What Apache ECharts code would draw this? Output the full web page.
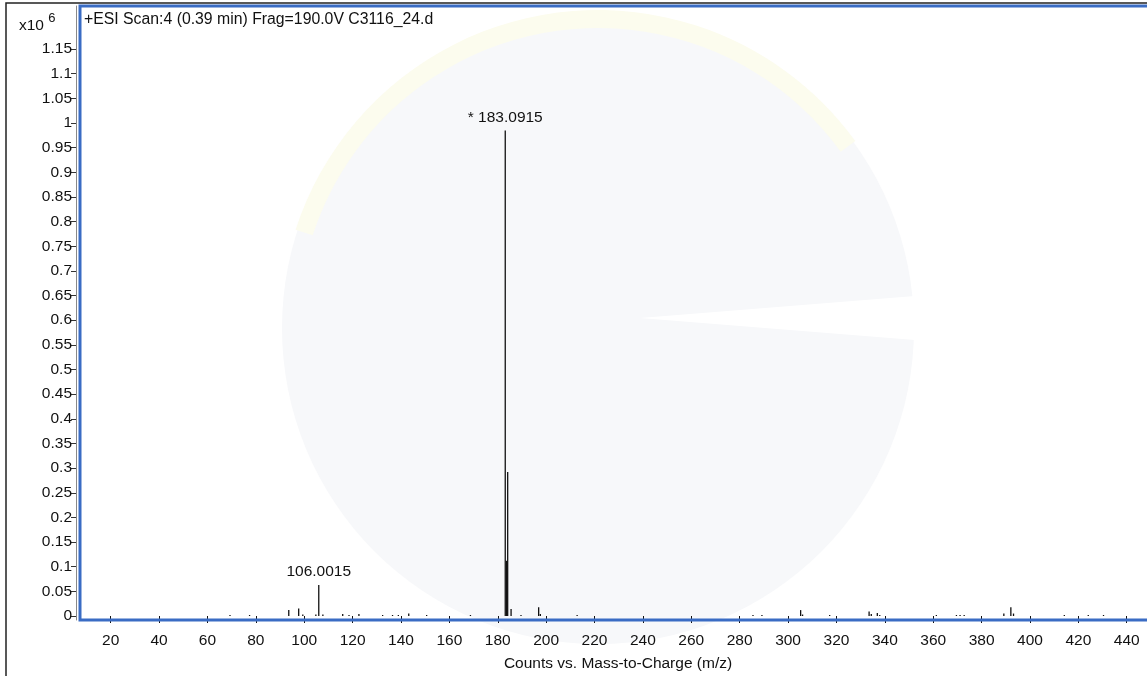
<!DOCTYPE html>
<html>
<head>
<meta charset="utf-8">
<script src="https://cdn.jsdelivr.net/npm/echarts@6/dist/echarts.min.js"></script>
<style>
html,body{margin:0;padding:0;background:#fff;overflow:hidden;}
#c{width:1156px;height:676px;}
</style>
</head>
<body>
<div id="c"></div>
<script>
// m/z values of the peaks
var mzValues = [69.3, 77.4, 93.6, 97.7, 99.4, 104.8, 106.0015, 107.7, 115.9, 118.5, 122.6, 132.4, 136.5, 138.9, 143.2, 150.6, 168.7,
  183.0915, 183.6, 184.0948, 185.5, 189.6, 196.9, 197.6, 212.8, 285.5, 289.2, 305.2, 306.0, 317.2, 333.5, 334.4, 336.9, 337.9,
  361.3, 369.6, 371.1, 372.8, 389.2, 392.1, 393.2, 414.2, 424.1, 430.4];
// counts (x10^6)
var countValues = [0.002, 0.002, 0.012, 0.015, 0.003, 0.003, 0.063, 0.003, 0.004, 0.002, 0.004, 0.002, 0.002, 0.002, 0.005, 0.002, 0.002,
  0.985, 0.112, 0.292, 0.014, 0.002, 0.018, 0.004, 0.002, 0.002, 0.002, 0.012, 0.003, 0.002, 0.009, 0.004, 0.006, 0.002,
  0.002, 0.002, 0.002, 0.002, 0.005, 0.018, 0.005, 0.002, 0.002, 0.002];
// annotated peaks
var peakLabels = {'106.0015': '106.0015', '183.0915': '* 183.0915'};
var xTicks = [20,40,60,80,100,120,140,160,180,200,220,240,260,280,300,320,340,360,380,400,420,440];
var yTicks = [0,0.05,0.1,0.15,0.2,0.25,0.3,0.35,0.4,0.45,0.5,0.55,0.6,0.65,0.7,0.75,0.8,0.85,0.9,0.95,1,1.05,1.1,1.15];
var titleText = '+ESI Scan:4 (0.39 min) Frag=190.0V C3116_24.d';
var xName = 'Counts vs. Mass-to-Charge (m/z)';

var FONT = 'Liberation Sans, Arial, sans-serif';
var FS = 15.5;
var data = mzValues.map(function (m, i) {
  var item = {value: [m, countValues[i]]};
  var key = String(m);
  if (peakLabels[key]) {
    item.label = {show: true, position: 'top', distance: 5, formatter: peakLabels[key],
      color: '#111', fontSize: FS, fontFamily: FONT};
  }
  return item;
});

var chart = echarts.init(document.getElementById('c'));
chart.setOption({
  animation: false,
  backgroundColor: '#fff',
  graphic: [
    {type: 'circle', shape: {cx: 598, cy: 328, r: 316}, style: {fill: '#f7f8fa'}, z: -10, silent: true},
    {type: 'sector', shape: {cx: 598, cy: 328, r: 318, r0: 300, startAngle: Math.PI * 1.1, endAngle: Math.PI * 1.8}, style: {fill: '#fcfcee'}, z: -9, silent: true},
    {type: 'polygon', shape: {points: [[640, 318], [915, 296], [915, 340]]}, style: {fill: '#ffffff'}, z: -9, silent: true},
    {type: 'rect', shape: {x: 6, y: 3, width: 1200, height: 720}, style: {fill: 'none', stroke: '#222', lineWidth: 1.5}, z: 10, silent: true},
    {type: 'text', left: 19, top: 12, style: {text: '{a|x10 }{b|6}', rich: {a: {fontSize: FS, fontFamily: FONT, fill: '#111', padding: [6, 0, 0, 0]}, b: {fontSize: 13, fontFamily: FONT, fill: '#111', verticalAlign: 'top'}}}, z: 10},
    {type: 'text', left: 84, top: 12, style: {text: titleText, fontSize: 15.8, fontFamily: FONT, fill: '#111'}, z: 10}
  ],
  grid: {left: 80, right: 0, top: 6, bottom: 56, show: true, borderColor: '#3a6cc4', borderWidth: 3,
    backgroundColor: 'transparent', z: 3, containLabel: false, outerBoundsMode: 'none'},
  xAxis: {
    type: 'value', min: 7.3, max: 452.1,
    name: xName, nameLocation: 'middle', nameGap: 36,
    nameTextStyle: {fontSize: FS, fontFamily: FONT, color: '#111'},
    axisLine: {show: false},
    axisTick: {show: true, length: 7, customValues: xTicks, lineStyle: {color: '#111'}},
    axisLabel: {customValues: xTicks, fontSize: FS, fontFamily: FONT, color: '#111', margin: 13},
    splitLine: {show: false}
  },
  yAxis: {
    type: 'value', min: -0.0081, max: 1.2373, offset: 4,
    axisLine: {show: true, lineStyle: {color: '#888', width: 1}},
    axisTick: {show: true, length: 5, customValues: yTicks, lineStyle: {color: '#333'}},
    axisLabel: {customValues: yTicks, fontSize: FS, fontFamily: FONT, color: '#111', margin: 4,
      formatter: function (v) { return String(Number(v.toFixed(2))); }},
    splitLine: {show: false}
  },
  series: [{
    type: 'bar', data: data, barWidth: 1.3, barGap: '-100%',
    itemStyle: {color: '#111'}, z: 2
  }]
});
</script>
</body>
</html>
